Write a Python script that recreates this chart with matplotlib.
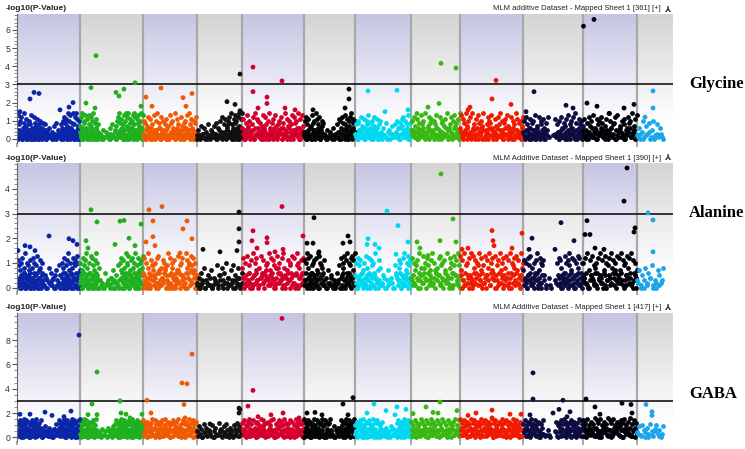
import numpy as np
import matplotlib.pyplot as plt

# chromosome layout (cumulative position units)
chrom_len = [63, 63, 54, 45, 62, 51, 56, 49, 63, 60, 54, 26]
chrom_colors = ['#0b25a8', '#1fb01f', '#f05a05', '#111111', '#d4002c', '#050505',
                '#00d8f0', '#38b810', '#f01a00', '#0c0c40', '#000008', '#1aa6ea']

traits = ['Glycine', 'Alanine', 'GABA']
titles = ['MLM additive Dataset - Mapped Sheet 1 [361] [+]',
          'MLM Additive Dataset - Mapped Sheet 1 [390] [+]',
          'MLM Additive Dataset - Mapped Sheet 1 [417] [+]']
threshold = 3.0

# background SNP clouds: one char per slot along the chromosome,
# base-36 digit = -log10(p) * 10, space = no marker
cloud_gly = [
    "5d28a1c3064e92b70519a38d6204c9173b5082a6143 9 8 0 5 2 6 1 4 07 3 9 1 5 2 8064a3c92b07e4a6d1593e08c2e4b7a03",
    "7c2e05a93d61b408d2c7a50e3916b4082  3 0  5 1  4  2 0 6 3 8 1 5 07a2c4e91b6308d5a2e7c0e49b16a3d8e2c05b9d17a4e62d",
    "3a907c14b6082d5a3e1960c4a28b5071d39a62e04b8153c7092a6d41e8b305a9c2",
    "2 5 0 7 3 1 6  4 0 8 2  5 1 7 3 9 0 6 a2 4c1 8 3b057a29c4e1806b3d92a5c07e4b1e",
    "6b3092d7a4158c0e3b6a2947d05c81a3e629b04d7158a3c0962e4b71a08d53c9a2e06b4d71",
    "4a0c83b1627d095a3e1b48c6027a9 3 0 5 1 4 2 6 0 3 8 1b4a06c2938d15b0a7c3e49b2a",
    "3809a51c472b063a8d1594a07c26b3081a4 6 2 9 0 5 3 7 1 8 4a26093b7c15a48d2093",
    "5a2c71b4093d86a1e3470c9b25a81d603c4a917b2e5068c3a1d794b0e",
    "6d2b94e07a3c1e5820b6d93a47e1058c2a9d6034b71c8e2a509b3d7164c0a82e5b193a7c",
    "4a1c8206b39a5d0274c18a3b60925c     2 b2840a3c61927b0d483a6c2e9015b8a37",
    "5b2093c7a1d460b38a2c9517b40e3a6289c0d1574a2b8036c9a1e47b2d",
    "2 6 0 4a 1 7 3 9 0 5 a 2 8 1 6 3 0",
]
low_gly = [
    "2051340216304125031042601352014306215304 1 2 0 3 1 0 2 4 1 302516041302651403205614",
    "4103625140326015340261043  2 0  1   3  0 2 1 4 0 3 2516043102650413620514302614503",
    "1052630414205316024513062041530261403520641350261403",
    "0 2 1  3 0 1 2 0 4 1 302 5 1 0 4 2 6 1 3 052041630251",
    "3051462031506241305264013052461302546031520641302546130524",
    "2140536021450316204513 2 0 1 3 0 2 1 4 0 3 52061403250614",
    "1305241630524160315246031 0 2 1 4 0 3 2 1 6 0 352416034",
    "2514063152403615240361520413625140361524",
    "4102536140265130426051340625143062514036205314602531406",
    "2051436025140632015204   1    31 4025163041520634105236140",
    "3150426135024613052461305246130524613502",
    "1 3 0 2 4 1 0 3 2 1",
]
cloud_ala = [
    "3b1907a4c2685e0a3917b4082c6a1593d0748b2a61  5 0 3 8 2 6 1 4 0 7 3 19 5 2a08c4693b1e7a2058c3a9b1d46a07",
    "a4073c9b1e58203a6d1c4907b2e5a308   2 0  6 1  3  0 4 2 7 0 5 1 9 3a7c0b4286e1a9d3057b2c8a14e6093c7a2b58d",
    "6c2a08e41b9375a0c2d6184b3a7092e5c18a4b0637d29a5c140e8b6a3d92c7a05",
    "1 4 0 6 2 8 0 3  5 1 7 0  4 2 9 1 5 3 8 0 6 a 2 4 1 7 3 9 05 2 8 4 1 6",
    "8c4a1d3692b0e5a7c3184d6b2059a3e17c4b9082d6a35c1e8047b3a96d2c05e1a84b6c3",
    "b3a1e8c40d692a5b1c37e0d4a9286b1 4 0 7 2 5 1 3 0 6 2 9 4c0a8d31b6e25a9c4d7b1e",
    "5a0c39b2617a4d083c5b19a6e04273b8 1 5 0 3 7 2 4 0 9 6 3b8a05c2e17a4d9b3",
    "4c1a79b3e0582d6a3c917b4e2a0685c1d9a3b72e40c8a61d5b3e90",
    "d7b3e19a5c2e40d8b6a1e3c7092d5b8e1a4c63d09b2e7a5c18d4b0e6a92c3d7b15e8a",
    "7b3a05c9d2184a6b3e07c2a9b5  1  4 0     3 a5c1b8042d6a3b9e17c40b5a2d8c16a3",
    "a4c2e07b5d3918a6c4e2b07d5a39c1e8b4a60d2c7e3b9a15d8c4e2b6a07",
    "3 7 1 5 0 8 2 6 4 9 1 3 0 7 5 2 8",
]
low_ala = [
    "3142053160241530624103526014302531 4 0 2 1 3 0 5 1 2 0 41630250413625041360521",
    "2503614250361402531640  3 1  0   2  1 4 0 3 2 1 0 4362051436025143602514306251",
    "0531426053914260731426853102605314276053142604917264053",
    "2 0 1 3  0 2 1 4 0 1 3 2 0 5 1 3 2 0 4 1 2 0 3 1 4 0 2",
    "4025136041526301452637415263014826304152630415269041526",
    "1360425136042513604251 3 0 2 1 4 0 2 1 3 0 5163042516304251",
    "2041536024153602415 3 0 1 2 4 0 1 3 2 0 5413602415360241",
    "3521406352840635214763521406352140695214",
    "5031624053162495316240531674053162405316240581624053",
    "1420536142053614205 3 0   1     2 14205361420536142053614205",
    "4261035426103542610354261735426103542610354",
    "2 0 3 1 4 0 2 1 3",
]
cloud_gaba = [
    "b6d3e90a5c2f8b4e17d3a0c6e29b5d1f84a3c7e 0 6 2 9 4 1 8 3 5 0 7 2 b 5 e8c3a9d1f6b04e7c2a5d9f3b8e06c4d7a2f",
    "d8a4c1f6b3e09a5d27c4e8b1a3f6   4 1  7 2  5  0 8 3 6 1 9 4b2e7d0a5c8f3b6e19d4a7c2e5b0f8d3a6c9e14b7d2a5c8",
    "e3b8d15a9c4f27e0b6d3a8c5e19f4b2d7a0c6e3b9d5f18a4c7e2b0d6a9f3c5e8b1d4",
    "5 9 2 7 0 b 4 8 1  6 3 a 0 5 8 2  c 4 7 1 9 3 b 6 0 8 5 2 a 7 4 c1 9 6 3",
    "c7e2a9d4f1b6e38c0d5a7f2e9b4c1d6a8e3f05b7c2e9d4a1f6c8b3e07d5a2f9c4e6b1d8",
    "f4c8a2e6d0b9c3f7a15e8d4b2c6f9a0e3d7b5c1f 6 2 9 0 4 8 1 e5a3d7c0f2b8e4a6d9c1f3",
    "a5d9c2e7b0f4a8d3c6e1b9a5f2d7c0e4b8a3d6 2 8 0 5 1 9 3 7 4c0e8a2d6b9f3c5a1e7d4",
    "d2a7e4c9b1f6d3a8e0c5b7f2d9a4e6c1b8f3d5a0e7c4b9d2f6a3e8",
    "f6c2e9a5d1b8f3c7e0a4d9b2f5c8e1a6d3b7f0c4e9a2d5b8f1c6e3a7d0b4f9c2e5a8d1b6",
    "b4e8a1d6c3f9b5e2a7d0c4b8e3  2  6 0     5 d1a9c4e7b2f5d8a3c6e0b9d4a7c2f5e1b8",
    "e9c4f7a2d6b1g8e3c5f0a9d4b7g2e6c1f8a5d3b9e0c7f4a6d2g1b5e8c3",
    "4 9 2 a 6 0 8 3 b 5 1 7 a 3 6 0 9",
]
low_gaba = [
    "4153627041538260415362804152738041 5 2 6 1 3 0 7 4 2 8 15362704185362041527380415",
    "3062514730625184306251  4 0  2   1  5 3 0 6 2 1 7306251843062517430625184306251",
    "2740516382740516382740516382740516382740516",
    "1 3 0 4 2  5 1 0 3 2 6 0 4 1 3 5 0 2 6 1 4",
    "5260417352604183526041735260418352604173526041835260",
    "0418352607418352604 1 3 0 5 2 4 1 0 6 3 8 2604183526074183",
    "3507261840350726184035 2 0 6 1 4 3 0 7 2 5 18403507261840",
    "6140725361407253614072536140725361",
    "2853061742853061742853061742853061742853061",
    "4716250384716250 3 1   2     4 0 716250384716250384716",
    "1605374821605374821605374821605374821605",
    "3 1 4 0 2 5 1 3",
]

# stand-out SNPs: chromosome (1-based), position inside chromosome, -log10(p)
top_gly_chr = [1, 1, 1, 1, 1, 1, 1, 2, 2, 2, 2, 2, 2, 2, 2, 2, 3, 3, 3, 3, 3, 3,
               4, 4, 4, 4, 5, 5, 5, 5, 5, 5, 5, 5, 6, 6, 6, 6, 7, 7, 7, 7,
               8, 8, 8, 8, 8, 9, 9, 9, 9, 9, 10, 10, 10, 10,
               11, 11, 11, 11, 11, 11, 11, 12, 12, 12]
top_gly_pos = [13, 17, 22, 56, 52, 3, 43, 16, 11, 6, 15, 36, 39, 44, 55, 61, 3, 18, 40, 49, 43, 9,
               30, 38, 43, 43, 11, 40, 11, 25, 25, 16, 43, 53, 45, 45, 9, 41, 13, 42, 53, 30,
               30, 45, 28, 17, 6, 36, 32, 8, 51, 10, 11, 3, 43, 50,
               0.5, 11, 4, 14, 26, 41, 51, 16, 16, 8]
top_gly_val = [2.2, 2.56, 2.5, 2.0, 1.75, 1.5, 1.6, 4.58, 2.82, 1.97, 1.7, 2.56, 2.36, 2.74, 3.09, 1.8,
               2.3, 2.8, 2.27, 2.5, 1.8, 1.8, 2.05, 1.9, 3.57, 1.55,
               3.95, 3.19, 2.6, 2.3, 1.95, 1.7, 1.7, 1.6, 2.74, 2.2, 1.6, 1.7, 2.64, 2.68, 1.6, 1.5,
               4.16, 3.9, 1.95, 1.75, 1.4, 3.22, 2.2, 1.6, 1.9, 1.75, 2.6, 1.5, 1.85, 1.7,
               6.2, 6.57, 1.97, 1.8, 1.4, 1.7, 1.9, 2.64, 1.7, 1.2]

top_ala_chr = [1, 1, 1, 1, 1, 1, 1, 1, 2, 2, 2, 2, 2, 2, 2, 2, 2, 2,
               3, 3, 3, 3, 3, 3, 3, 3, 3, 3, 4, 4, 4, 4, 4, 4,
               5, 5, 5, 5, 5, 5, 5, 5, 5, 6, 6, 6, 6, 6, 6, 6,
               7, 7, 7, 7, 7, 7, 7, 7, 8, 8, 8, 8, 8, 8, 8,
               9, 9, 9, 9, 9, 9, 9, 10, 10, 10, 10, 10,
               11, 11, 11, 11, 11, 11, 11, 11, 11, 12, 12, 12]
top_ala_pos = [32, 52, 56, 60, 8, 13, 1, 18, 11, 17, 6, 40, 44, 49, 61, 35, 55, 8,
               6, 19, 10, 10, 3, 44, 40, 49, 12, 37, 42, 42, 42, 6, 23, 40,
               40, 11, 25, 25, 10, 61, 41, 33, 15, 10, 3, 9, 44, 46, 39, 15,
               32, 43, 13, 12, 20, 24, 53, 41, 30, 42, 29, 6, 45, 9, 17,
               32, 33, 34, 52, 62, 8, 2, 38, 9, 51, 32, 6,
               44, 41, 4, 2, 7, 52, 51, 12, 21, 11, 16, 16]
top_ala_val = [2.09, 1.98, 1.9, 1.75, 1.7, 1.65, 1.5, 1.5, 3.15, 2.66, 1.9, 2.69, 2.72, 2.0, 2.57, 1.75, 1.7, 1.6,
               3.15, 3.28, 2.7, 2.06, 1.85, 2.7, 2.38, 1.98, 1.7, 1.4, 3.06, 2.38, 1.85, 1.55, 1.45, 1.5,
               3.28, 2.3, 2.02, 1.82, 1.9, 2.09, 1.55, 1.45, 1.6, 2.83, 1.8, 1.8, 2.09, 1.85, 1.8, 1.45,
               3.1, 2.51, 1.98, 1.75, 1.75, 1.6, 1.85, 1.35, 4.6, 2.78, 1.9, 1.85, 1.85, 1.6, 1.3,
               2.31, 1.9, 1.7, 1.6, 2.2, 1.6, 1.55, 2.63, 2.0, 1.9, 1.55, 1.55,
               4.84, 3.5, 2.71, 2.15, 2.15, 2.42, 2.25, 1.6, 1.55, 3.02, 2.74, 1.45]

top_gaba_chr = [1, 1, 1, 1, 1, 1, 1, 1, 2, 2, 2, 2, 2, 2, 2, 2, 2,
                3, 3, 3, 3, 3, 3, 3, 4, 4, 4, 4, 5, 5, 5, 5, 5, 5, 5,
                6, 6, 6, 6, 6, 6, 7, 7, 7, 7, 7, 7, 8, 8, 8, 8, 8, 8,
                9, 9, 9, 9, 9, 9, 10, 10, 10, 10, 10, 10, 10, 10,
                11, 11, 11, 11, 11, 11, 12, 12, 12]
top_gaba_pos = [62, 62.5, 54, 28, 13, 3, 35, 47, 17, 12, 40, 8, 17, 41, 46, 62, 50,
                49, 39, 44, 4, 41, 8, 42, 42, 43, 42, 13, 40, 11, 6, 41, 29, 16, 57,
                49, 39, 11, 3, 18, 44, 19, 42, 31, 12, 40, 51, 29, 15, 2, 22, 27, 46,
                32, 50, 61, 32, 16, 8, 10, 10, 40, 36, 47, 7, 44, 30,
                3, 12, 39, 48, 49, 17, 9, 15, 15]
top_gaba_val = [8.41, 1.4, 2.16, 2.07, 1.9, 1.9, 1.8, 1.7, 5.37, 2.74, 2.99, 1.87, 1.87, 2.0, 1.9, 1.9, 1.6,
                6.85, 4.47, 4.4, 3.05, 2.7, 2.0, 1.6, 2.4, 2.3, 2.0, 1.1, 9.78, 3.86, 2.57, 2.0, 1.85, 1.7, 1.6,
                3.26, 2.74, 2.05, 2.0, 1.85, 1.85, 2.74, 2.5, 2.2, 2.0, 1.85, 2.3, 2.9, 2.5, 1.95, 2.05, 2.0, 2.2,
                2.24, 1.9, 1.9, 1.6, 2.0, 1.8, 5.3, 3.15, 3.05, 2.3, 2.1, 1.85, 1.7, 2.0,
                3.15, 2.5, 2.8, 2.7, 2.0, 1.9, 2.7, 2.1, 1.8]

clouds = [(cloud_gly, low_gly), (cloud_ala, low_ala), (cloud_gaba, low_gaba)]
tops = [(top_gly_chr, top_gly_pos, top_gly_val),
        (top_ala_chr, top_ala_pos, top_ala_val),
        (top_gaba_chr, top_gaba_pos, top_gaba_val)]

# layout in pixels (figure is 745 x 449)
W, H = 745, 449
boxes = [(17, 14, 673, 142.6), (17, 163.3, 673, 291.4), (17, 313.3, 673, 441)]
ylims = [(-0.2, 6.87), (-0.15, 5.03), (-0.3, 10.2)]
yticks = [range(0, 7), range(0, 5), range(0, 10, 2)]
minor_step = [0.2, 0.2, 0.5]
label_y = [84, 213, 394]
title_y = [9, 158, 307.5]

starts = np.concatenate([[0], np.cumsum(chrom_len)[:-1]])
x_end = starts[-1] + chrom_len[-1] + 10


def band(top_rgb):
    g = np.linspace(0, 1, 256)
    t = np.clip((g - 0.12) / 0.88, 0, 1) ** 1.1
    rgb = 1 - t[:, None] * (1 - np.array(top_rgb))[None, :]
    return rgb[:, None, :]


def decode(s, c):
    n = len(s)
    xs = [starts[c] + (i + 0.5) / n * chrom_len[c] for i, ch in enumerate(s) if ch != ' ']
    ys = [int(ch, 36) / 10 for ch in s if ch != ' ']
    return xs, ys


blue_band = band((0.77, 0.77, 0.89))
gray_band = band((0.83, 0.83, 0.83))

plt.rcParams['font.family'] = ['Liberation Sans', 'DejaVu Sans']
fig = plt.figure(figsize=(W / 100, H / 100), dpi=100)

for k in range(3):
    l, t, r, b = boxes[k]
    ax = fig.add_axes([l / W, 1 - b / H, (r - l) / W, (b - t) / H])
    lo, hi = ylims[k]

    for c in range(12):
        x1 = starts[c] + chrom_len[c] if c < 11 else x_end
        ax.imshow(blue_band if c % 2 == 0 else gray_band, extent=(starts[c], x1, lo, hi),
                  aspect='auto', origin='lower', zorder=0, interpolation='bilinear')
    for c in range(1, 12):
        ax.axvline(starts[c], color='#a8a8a8', lw=1.6, zorder=1)

    # background cloud (two layers per chromosome)
    upper, lower = clouds[k]
    for c in range(12):
        for s in (lower[c], upper[c]):
            xs, ys = decode(s, c)
            ax.scatter(xs, ys, s=12, color=chrom_colors[c], linewidths=0, zorder=2)

    # stand-out points
    tc, tp, tv = tops[k]
    tx = [starts[c - 1] + p for c, p in zip(tc, tp)]
    ax.scatter(tx, tv, s=12, color=[chrom_colors[c - 1] for c in tc], linewidths=0, zorder=4)

    ax.axhline(threshold, color='black', lw=1.1, zorder=3)

    ax.set_xlim(0, x_end)
    ax.set_ylim(lo, hi)
    for sp in ['top', 'right', 'bottom']:
        ax.spines[sp].set_visible(False)
    ax.spines['left'].set_color('#666666')
    ax.spines['left'].set_linewidth(0.8)
    ax.set_xticks(list(starts))
    ax.set_xticklabels([])
    ax.tick_params(axis='x', length=3, width=1.2, color='#9a9a9a')
    ax.set_yticks(list(yticks[k]))
    ax.set_yticks(np.arange(0, hi, minor_step[k]), minor=True)
    ax.tick_params(axis='y', which='major', length=3.5, width=0.8, color='#555555',
                   labelsize=6.3, labelcolor='#333333', pad=1.5)
    ax.tick_params(axis='y', which='minor', length=2, width=0.6, color='#777777')

    fig.text(6 / W, 1 - title_y[k] / H, '-log10(P-Value)', fontsize=6, fontweight='bold',
             ha='left', va='center', color='#222222')
    fig.text(661 / W, 1 - title_y[k] / H, titles[k], fontsize=5.5, ha='right', va='center',
             color='#222222')
    fig.text(667 / W, 1 - title_y[k] / H, '\u2144', fontsize=6, ha='center', va='center',
             color='#333333', family='DejaVu Sans', fontweight='bold')
    fig.text(689 / W, 1 - label_y[k] / H, traits[k], fontsize=12, fontweight='bold',
             family='Liberation Serif', ha='left', va='center')

fig.savefig('out.png', dpi=100)
